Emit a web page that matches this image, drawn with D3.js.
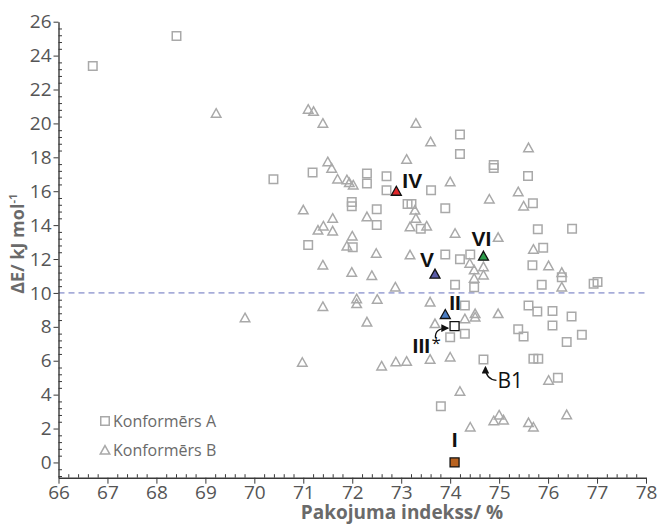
<!DOCTYPE html>
<html>
<head>
<meta charset="utf-8">
<script src="https://cdn.jsdelivr.net/npm/d3@7/dist/d3.min.js"></script>
<style>
  body { margin: 0; background: #fff; }
  svg { display: block; }
</style>
</head>
<body>
<svg id="chart" width="658" height="524"></svg>
<script>
// Conformer A (squares): [packing index %, ΔE kJ/mol]
const conformerA = [
  [66.70, 23.38], [68.41, 25.15], [70.39, 16.70], [71.19, 17.11], [71.10, 12.82],
  [72.30, 17.05], [72.30, 16.46], [72.70, 16.89], [72.70, 16.06], [71.99, 15.37],
  [71.99, 15.12], [72.50, 14.93], [72.50, 14.00], [72.01, 12.69], [74.20, 19.34],
  [74.20, 18.20], [74.89, 17.55], [74.89, 17.37], [73.61, 16.05], [73.90, 14.99],
  [73.13, 15.24], [73.21, 15.24], [73.40, 13.79], [75.59, 16.90], [75.69, 15.29],
  [75.79, 13.76], [76.49, 13.79], [75.90, 12.67], [73.90, 12.26], [74.20, 11.99],
  [74.41, 12.26], [75.68, 11.64], [75.87, 10.48], [76.28, 10.93], [76.93, 10.54],
  [77.01, 10.64], [74.10, 10.48], [74.49, 10.34], [74.30, 9.26], [74.00, 7.39],
  [74.30, 7.59], [73.81, 3.32], [75.60, 9.26], [75.78, 8.91], [76.09, 8.93],
  [76.09, 8.08], [76.48, 8.61], [75.39, 7.85], [75.50, 7.43], [76.38, 7.10],
  [76.69, 7.53], [75.70, 6.11], [75.80, 6.11], [76.20, 4.99]
];

// Conformer B (triangles): [packing index %, ΔE kJ/mol]
const conformerB = [
  [69.22, 20.59], [69.81, 8.53], [70.98, 5.90], [71.40, 11.64], [71.40, 9.19],
  [71.10, 20.83], [71.21, 20.70], [71.40, 20.00], [71.00, 14.89], [71.30, 13.70],
  [71.41, 13.94], [71.60, 14.40], [71.60, 13.65], [71.50, 17.73], [71.58, 17.35],
  [71.70, 16.71], [71.89, 16.67], [71.94, 16.50], [72.02, 16.36], [72.30, 14.49],
  [72.00, 13.35], [71.89, 12.76], [72.49, 12.33], [71.99, 11.21], [72.40, 11.02],
  [72.09, 9.65], [72.09, 9.36], [72.51, 9.62], [72.30, 8.28], [72.60, 5.68],
  [72.89, 5.93], [73.11, 5.96], [72.88, 10.34], [73.59, 9.46], [73.69, 8.18],
  [73.59, 6.08], [74.00, 6.21], [74.20, 4.19], [74.41, 2.08], [74.89, 2.45],
  [75.00, 2.79], [75.09, 2.50], [75.60, 2.34], [75.70, 2.08], [76.38, 2.81],
  [76.01, 4.84], [74.30, 8.47], [74.51, 8.77], [74.51, 8.57], [74.98, 8.77],
  [73.30, 20.00], [73.60, 18.91], [73.11, 17.88], [74.00, 16.55], [74.80, 15.53],
  [73.28, 14.88], [73.30, 14.40], [73.18, 13.90], [73.52, 13.94], [74.10, 13.51],
  [74.98, 13.27], [73.18, 12.24], [75.60, 18.56], [75.39, 15.96], [75.50, 15.12],
  [75.70, 12.57], [76.01, 11.60], [76.28, 11.20], [76.28, 10.34], [74.40, 11.74],
  [74.49, 11.35], [74.68, 11.54], [74.68, 11.05], [74.49, 10.86]
];

// Named structures
const namedLabels = ["I", "II", "III", "IV", "V", "VI"];
const namedShapes = ["square", "triangle", "square", "triangle", "triangle", "triangle"];
const namedX = [74.09, 73.90, 74.09, 72.90, 73.69, 74.68];
const namedY = [0.00, 8.73, 8.04, 16.00, 11.11, 12.17];

// Reference structure B1 (belongs to conformer A)
const refLabel = "B1";
const refX = 74.68;
const refY = 6.08;

const xTickValues = [66, 67, 68, 69, 70, 71, 72, 73, 74, 75, 76, 77, 78];
const yTickValues = [0, 2, 4, 6, 8, 10, 12, 14, 16, 18, 20, 22, 24, 26];
const thresholdValue = 10;

const legendLabels = ["Konformērs A", "Konformērs B"];
const xTitle = "Pakojuma indekss/ %";

// ---- styling ----
const namedFill = { I: "#b8621f", II: "#4b7dc3", III: "#ffffff", IV: "#e0262a", V: "#5a5ca8", VI: "#2d9d4b" };
const labelOffset = {
  I:   { dx: 0,   dy: -15, anchor: "middle" },
  II:  { dx: 4,   dy: -4,  anchor: "start" },
  III: { dx: -42, dy: 27,  anchor: "start" },
  IV:  { dx: 6,   dy: -3,  anchor: "start" },
  V:   { dx: -15, dy: -7,  anchor: "start" },
  VI:  { dx: -2,  dy: -10, anchor: "middle" }
};
const grey = "#a9a9a9";
const axisColor = "#3a3a3a";

const svg = d3.select("#chart");

const x = d3.scaleLinear().domain([66, 78]).range([58.5, 646]);
const y = d3.scaleLinear().domain([-0.9, 26]).range([477.7, 21.7]);

// marker shapes
const sq = 8.5;
function squarePath(s) { const h = s / 2; return `M${-h},${-h}H${h}V${h}H${-h}Z`; }
function trianglePath(w, hgt) {
  return `M0,${-hgt * 0.55}L${w / 2},${hgt * 0.45}L${-w / 2},${hgt * 0.45}Z`;
}
const triPath = trianglePath(9.5, 8.5);

// threshold line
svg.append("line")
  .attr("x1", x(66)).attr("x2", x(78))
  .attr("y1", y(thresholdValue)).attr("y2", y(thresholdValue))
  .attr("stroke", "#6670bd").attr("stroke-width", 1)
  .attr("stroke-dasharray", "6,4");

// axes
const fontTicks = "'Open Sans', 'Noto Sans', sans-serif";

svg.append("g")
  .attr("transform", `translate(0,${y(-0.9)})`)
  .call(d3.axisBottom(x).tickValues(xTickValues).tickSize(6).tickSizeOuter(0).tickPadding(2));
const xMinor = d3.range(66, 78.001, 0.2).filter(v => Math.abs(v - Math.round(v)) > 0.01);
svg.append("g")
  .attr("transform", `translate(0,${y(-0.9)})`)
  .call(d3.axisBottom(x).tickValues(xMinor).tickSize(-3.5).tickFormat(""))
  .call(g => g.select(".domain").remove());

svg.append("g")
  .attr("transform", `translate(${x(66)},0)`)
  .call(d3.axisLeft(y).tickValues(yTickValues).tickSize(5).tickSizeOuter(0).tickPadding(2));
const yMinor = d3.range(-0.8, 26.001, 0.4).filter(v => Math.abs(v / 2 - Math.round(v / 2)) > 0.01);
svg.append("g")
  .attr("transform", `translate(${x(66)},0)`)
  .call(d3.axisLeft(y).tickValues(yMinor).tickSize(-3.5).tickFormat(""))
  .call(g => g.select(".domain").remove());

svg.selectAll(".domain").attr("stroke", axisColor).attr("stroke-width", 1.4);
svg.selectAll(".tick line").attr("stroke", axisColor).attr("stroke-width", 1);
svg.selectAll(".tick text")
  .attr("font-family", fontTicks).attr("font-size", 19).attr("fill", "#555");

// axis titles
svg.append("text")
  .attr("x", 402).attr("y", 519)
  .attr("text-anchor", "middle")
  .attr("font-family", fontTicks).attr("font-weight", "bold").attr("font-size", 19)
  .attr("fill", "#6a6a6a")
  .text(xTitle);

const yTitle = svg.append("text")
  .attr("transform", `translate(24,${y(12.9)}) rotate(-90)`)
  .attr("text-anchor", "middle")
  .attr("font-family", fontTicks).attr("font-weight", "bold").attr("font-size", 18)
  .attr("fill", "#6a6a6a");
yTitle.append("tspan").text("ΔE/ kJ mol");
yTitle.append("tspan").attr("dy", -7).attr("font-size", 11).text("-1");

// scatter: conformer A
svg.append("g").selectAll("path")
  .data(conformerA).join("path")
  .attr("d", squarePath(sq))
  .attr("transform", d => `translate(${x(d[0])},${y(d[1])})`)
  .attr("fill", "none").attr("stroke", grey).attr("stroke-width", 1.5);

// B1 reference square
svg.append("path")
  .attr("d", squarePath(sq))
  .attr("transform", `translate(${x(refX)},${y(refY)})`)
  .attr("fill", "none").attr("stroke", grey).attr("stroke-width", 1.5);

// scatter: conformer B
svg.append("g").selectAll("path")
  .data(conformerB).join("path")
  .attr("d", triPath)
  .attr("transform", d => `translate(${x(d[0])},${y(d[1])})`)
  .attr("fill", "none").attr("stroke", grey).attr("stroke-width", 1.5);

// named structures
const named = namedLabels.map((l, i) => ({ label: l, shape: namedShapes[i], x: namedX[i], y: namedY[i] }));
svg.append("g").selectAll("path")
  .data(named).join("path")
  .attr("d", d => d.shape === "square" ? squarePath(sq + 0.5) : trianglePath(10, 9))
  .attr("transform", d => `translate(${x(d.x)},${y(d.y)})`)
  .attr("fill", d => namedFill[d.label])
  .attr("stroke", "#111").attr("stroke-width", 1.3);

const fontLabel = "'Liberation Sans', Arial, sans-serif";
svg.append("g").selectAll("text")
  .data(named).join("text")
  .attr("x", d => x(d.x) + labelOffset[d.label].dx)
  .attr("y", d => y(d.y) + labelOffset[d.label].dy)
  .attr("text-anchor", d => labelOffset[d.label].anchor)
  .attr("font-family", fontLabel).attr("font-weight", "bold").attr("font-size", 21)
  .attr("fill", "#111")
  .text(d => d.label);

// asterisk next to III
const iii = named.find(d => d.label === "III");
svg.append("text")
  .attr("x", x(iii.x) - 23).attr("y", y(iii.y) + 23)
  .attr("font-family", fontTicks).attr("font-size", 17).attr("fill", "#111")
  .text("*");

// arrows
svg.append("defs").append("marker")
  .attr("id", "head").attr("viewBox", "0 0 10 10")
  .attr("refX", 8).attr("refY", 5)
  .attr("markerWidth", 6).attr("markerHeight", 6)
  .attr("orient", "auto-start-reverse")
  .append("path").attr("d", "M0,0L10,5L0,10Z").attr("fill", "#111");

const ix = x(iii.x), iy = y(iii.y);
svg.append("path")
  .attr("d", `M${ix - 19},${iy + 12} C${ix - 20},${iy + 5} ${ix - 15},${iy + 2} ${ix - 7},${iy + 2}`)
  .attr("fill", "none").attr("stroke", "#111").attr("stroke-width", 1.3)
  .attr("marker-end", "url(#head)");

const bx = x(refX), by = y(refY);
svg.append("path")
  .attr("d", `M${bx + 13},${by + 21} C${bx + 6},${by + 20} ${bx + 2},${by + 16} ${bx + 2},${by + 8}`)
  .attr("fill", "none").attr("stroke", "#111").attr("stroke-width", 1.3)
  .attr("marker-end", "url(#head)");

svg.append("text")
  .attr("x", bx + 14).attr("y", by + 29)
  .attr("font-family", fontTicks).attr("font-size", 21).attr("fill", "#111")
  .text(refLabel);

// legend
const legend = svg.append("g").attr("transform", `translate(105,0)`);
legend.append("path").attr("d", squarePath(sq))
  .attr("transform", `translate(0,${y(2.45)})`)
  .attr("fill", "none").attr("stroke", grey).attr("stroke-width", 1.5);
legend.append("path").attr("d", triPath)
  .attr("transform", `translate(0,${y(0.72)})`)
  .attr("fill", "none").attr("stroke", grey).attr("stroke-width", 1.5);
legend.selectAll("text").data(legendLabels).join("text")
  .attr("x", 8)
  .attr("y", (d, i) => y(i === 0 ? 2.45 : 0.72) + 6)
  .attr("font-family", fontTicks).attr("font-size", 16).attr("fill", "#6a6a6a")
  .text(d => d);
</script>
</body>
</html>
